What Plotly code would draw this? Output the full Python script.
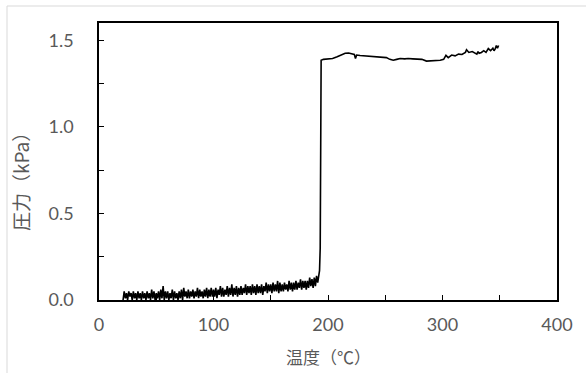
import plotly.graph_objects as go

# Low-temperature region (noisy baseline)
x_low = [21, 22, 23, 24, 25, 26, 27, 28, 29, 30,
         31, 32, 33, 34, 35, 36, 37, 38, 39, 40,
         41, 42, 43, 44, 45, 46, 47, 48, 49, 50,
         51, 52, 53, 54, 55, 56, 57, 58, 59, 60,
         61, 62, 63, 64, 65, 66, 67, 68, 69, 70,
         71, 72, 73, 74, 75, 76, 77, 78, 79, 80,
         81, 82, 83, 84, 85, 86, 87, 88, 89, 90,
         91, 92, 93, 94, 95, 96, 97, 98, 99, 100,
         101, 102, 103, 104, 105, 106, 107, 108, 109, 110,
         111, 112, 113, 114, 115, 116, 117, 118, 119, 120,
         121, 122, 123, 124, 125, 126, 127, 128, 129, 130,
         131, 132, 133, 134, 135, 136, 137, 138, 139, 140,
         141, 142, 143, 144, 145, 146, 147, 148, 149, 150,
         151, 152, 153, 154, 155, 156, 157, 158, 159, 160,
         161, 162, 163, 164, 165, 166, 167, 168, 169, 170,
         171, 172, 173, 174, 175, 176, 177, 178, 179, 180,
         181, 182, 183, 184, 185, 186, 187, 188, 189, 190,
         191]
y_low = [0.00, 0.05, 0.01, 0.04, 0.00, 0.05, 0.02, 0.04, 0.00, 0.05,
         0.01, 0.04, 0.00, 0.05, 0.01, 0.04, 0.00, 0.05, 0.01, 0.04,
         0.00, 0.05, 0.01, 0.04, 0.00, 0.06, 0.01, 0.05, 0.00, 0.04,
         0.01, 0.05, 0.00, 0.06, 0.01, 0.08, 0.00, 0.05, 0.01, 0.05,
         0.00, 0.04, 0.01, 0.06, 0.00, 0.05, 0.01, 0.04, 0.00, 0.05,
         0.01, 0.06, 0.00, 0.07, 0.02, 0.05, 0.01, 0.06, 0.01, 0.05,
         0.02, 0.06, 0.01, 0.05, 0.02, 0.07, 0.01, 0.06, 0.02, 0.05,
         0.01, 0.06, 0.02, 0.07, 0.01, 0.06, 0.02, 0.07, 0.02, 0.06,
         0.02, 0.07, 0.01, 0.06, 0.03, 0.08, 0.02, 0.07, 0.02, 0.06,
         0.03, 0.08, 0.02, 0.07, 0.03, 0.09, 0.02, 0.07, 0.03, 0.08,
         0.02, 0.07, 0.03, 0.08, 0.03, 0.07, 0.04, 0.09, 0.03, 0.08,
         0.04, 0.08, 0.03, 0.09, 0.04, 0.08, 0.03, 0.09, 0.04, 0.08,
         0.04, 0.09, 0.03, 0.08, 0.05, 0.10, 0.04, 0.09, 0.05, 0.09,
         0.04, 0.10, 0.05, 0.09, 0.05, 0.11, 0.04, 0.10, 0.05, 0.09,
         0.05, 0.10, 0.06, 0.09, 0.05, 0.11, 0.06, 0.10, 0.05, 0.10,
         0.06, 0.11, 0.06, 0.10, 0.07, 0.12, 0.06, 0.11, 0.07, 0.11,
         0.06, 0.11, 0.07, 0.13, 0.08, 0.12, 0.07, 0.13, 0.08, 0.14,
         0.10]

# Jump and high-temperature plateau
x_high = [192.0, 192.6, 193.2, 193.6, 194.0, 196, 200, 204, 208, 212, 215, 218, 221, 223,
          224, 225, 228, 232, 236, 240, 244, 248, 251, 254, 257, 260, 263, 267,
          270, 274, 278, 282, 286, 290, 294, 298, 301, 303, 305, 308, 311, 314,
          317, 320, 321, 323, 326, 328, 330, 331, 332, 334, 336, 338, 340, 342,
          344, 345, 346, 347, 348, 349]
y_high = [0.15, 0.17, 0.30, 1.00, 1.385, 1.39, 1.392, 1.395, 1.405, 1.414, 1.425, 1.427, 1.42, 1.418,
          1.395, 1.415, 1.412, 1.41, 1.41, 1.408, 1.405, 1.404, 1.40, 1.39, 1.385, 1.39, 1.395, 1.393,
          1.395, 1.393, 1.392, 1.39, 1.38, 1.382, 1.38, 1.385, 1.39, 1.413, 1.40, 1.415, 1.41, 1.42,
          1.418, 1.43, 1.446, 1.43, 1.435, 1.425, 1.42, 1.435, 1.425, 1.43, 1.44, 1.43, 1.452, 1.44,
          1.455, 1.44, 1.45, 1.47, 1.455, 1.47]

x_ticks = [0, 100, 200, 300, 400]
y_ticks = [0, 0.5, 1.0, 1.5]
x_title = "温度（℃）"
y_title = "圧力（kPa）"

x_all = x_low + x_high
y_all = y_low + y_high

fig = go.Figure()
fig.add_trace(go.Scatter(x=x_all, y=y_all, mode="lines",
                         line=dict(color="black", width=1.6), showlegend=False))

tick_font = dict(family="Lato, 'Open Sans', sans-serif", size=18, color="#595959")
x_title_font = dict(family="'Noto Sans CJK JP', sans-serif", size=17, color="#595959")
y_title_font = dict(family="'Noto Sans CJK JP', sans-serif", size=19, color="#595959")

fig.update_layout(
    width=586, height=373,
    margin=dict(l=99, r=29, t=23, b=73, autoexpand=False),
    paper_bgcolor="white", plot_bgcolor="white",
    xaxis=dict(range=[0, 400], tickvals=x_ticks, automargin=False,
               ticks="inside", ticklen=5, tickwidth=1, tickcolor="black",
               minor=dict(dtick=50, tick0=0, ticks="inside", ticklen=5, tickcolor="black"),
               showline=True, linecolor="black", linewidth=1.5, mirror=True,
               showgrid=False, zeroline=False, tickfont=tick_font,
               ticklabelstandoff=8),
    yaxis=dict(range=[0, 1.6], tickvals=y_ticks, tickformat=".1f", automargin=False,
               ticks="inside", ticklen=5, tickwidth=1, tickcolor="black",
               minor=dict(tickvals=[0.25, 0.75, 1.25], ticks="inside", ticklen=5, tickcolor="black"),
               showline=True, linecolor="black", linewidth=1.5, mirror=True,
               showgrid=False, zeroline=False, tickfont=tick_font,
               ticklabelstandoff=20),
    annotations=[
        dict(text=x_title, xref="paper", yref="paper", x=0.5, y=-56/277,
             xanchor="center", yanchor="middle", showarrow=False, font=x_title_font),
        dict(text=y_title, xref="paper", yref="paper", x=-79/458, y=1 - 154/277,
             xanchor="center", yanchor="middle", textangle=-90, showarrow=False, font=y_title_font),
    ],
)

# light gray outer chart-area border
fig.add_shape(type="rect", xref="paper", yref="paper",
              x0=-92/458, x1=2.0, y0=-2.0, y1=1 + 17/277,
              line=dict(color="#d9d9d9", width=1), fillcolor="rgba(0,0,0,0)", layer="below")

fig.write_html("out.html")
